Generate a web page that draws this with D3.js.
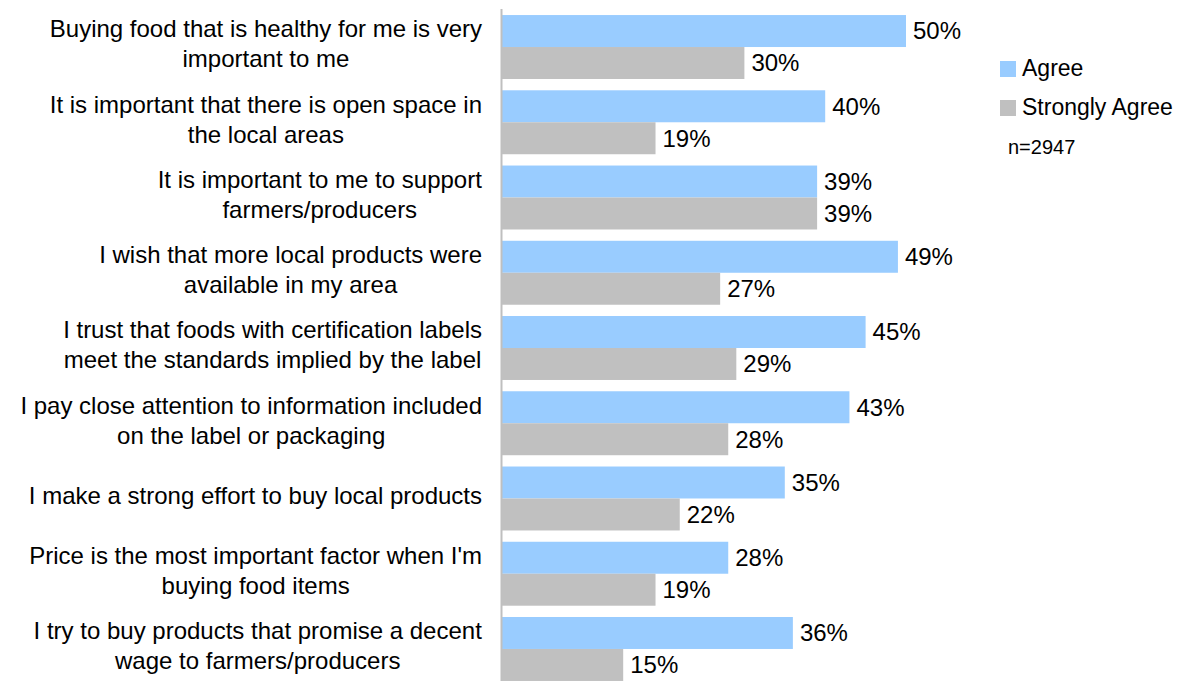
<!DOCTYPE html>
<html>
<head>
<meta charset="utf-8">
<script src="https://cdn.jsdelivr.net/npm/d3@7"></script>
<style>
  html, body { margin: 0; padding: 0; background: #fff; }
  svg { display: block; font-family: "Liberation Sans", Arial, sans-serif; }
</style>
</head>
<body>
<svg id="chart" width="1189" height="681"></svg>
<script>
// Survey statements (line breaks mark where each label wraps)
const categories = [
  "Buying food that is healthy for me is very\nimportant to me",
  "It is important that there is open space in\nthe local areas",
  "It is important to me to support\nfarmers/producers",
  "I wish that more local products were\navailable in my area",
  "I trust that foods with certification labels\nmeet the standards implied by the label",
  "I pay close attention to information included\non the label or packaging",
  "I make a strong effort to buy local products",
  "Price is the most important factor when I'm\nbuying food items",
  "I try to buy products that promise a decent\nwage to farmers/producers"
];
const seriesNames = ["Agree", "Strongly Agree"];
const agree = [50, 40, 39, 49, 45, 43, 35, 28, 36];
const stronglyAgree = [30, 19, 39, 27, 29, 28, 22, 19, 15];
const sampleNote = "n=2947";

const colors = { "Agree": "#99ccff", "Strongly Agree": "#c0c0c0" };
const values = { "Agree": agree, "Strongly Agree": stronglyAgree };

const svg = d3.select("#chart");

const x = d3.scaleLinear().domain([0, 50]).range([502, 906]);
const y = d3.scaleBand()
  .domain(categories)
  .range([9.4, 686.6])
  .paddingInner(0.15)
  .paddingOuter(0.075);
const ySub = d3.scaleBand().domain(seriesNames).range([0, y.bandwidth()]);

// Bars with value labels
const groups = svg.append("g").selectAll("g")
  .data(categories)
  .join("g")
  .attr("transform", d => `translate(0,${y(d)})`);

seriesNames.forEach(s => {
  groups.append("rect")
    .attr("x", x(0))
    .attr("y", ySub(s))
    .attr("height", ySub.bandwidth())
    .attr("width", (d, i) => x(values[s][i]) - x(0))
    .attr("fill", colors[s]);

  groups.append("text")
    .attr("x", (d, i) => x(values[s][i]) + 7)
    .attr("y", ySub(s) + ySub.bandwidth() / 2)
    .attr("dy", "0.35em")
    .attr("font-size", 24)
    .attr("fill", "#000")
    .text((d, i) => values[s][i] + "%");
});

// Vertical axis line
svg.append("line")
  .attr("x1", 501.5).attr("x2", 501.5)
  .attr("y1", 9).attr("y2", 681)
  .attr("stroke", "#bfbfbf")
  .attr("stroke-width", 2);

// Category labels: each block right-aligned, lines centered within it
const labelRight = 482;
const lineGap = 30;
const labels = svg.append("g").attr("font-size", 24).attr("fill", "#000");
categories.forEach(c => {
  const lines = c.split("\n");
  const cy = y(c) + y.bandwidth() / 2 - 3;
  const t = labels.append("text").attr("text-anchor", "middle");
  lines.forEach((ln, i) => {
    t.append("tspan")
      .attr("x", 0)
      .attr("y", cy + (i - (lines.length - 1) / 2) * lineGap)
      .attr("dy", "0.35em")
      .text(ln);
  });
  const w = t.node().getBBox().width;
  t.selectAll("tspan").attr("x", labelRight - w / 2);
});

// Legend
const legend = svg.append("g").attr("font-size", 23);
seriesNames.forEach((s, i) => {
  const ly = 68 + i * 39;
  legend.append("rect")
    .attr("x", 1000).attr("y", ly - 7)
    .attr("width", 16).attr("height", 16)
    .attr("fill", colors[s]);
  legend.append("text")
    .attr("x", 1022).attr("y", ly)
    .attr("dy", "0.35em")
    .text(s);
});
legend.append("text")
  .attr("x", 1008).attr("y", 147)
  .attr("dy", "0.35em")
  .attr("font-size", 20)
  .text(sampleNote);
</script>
</body>
</html>
